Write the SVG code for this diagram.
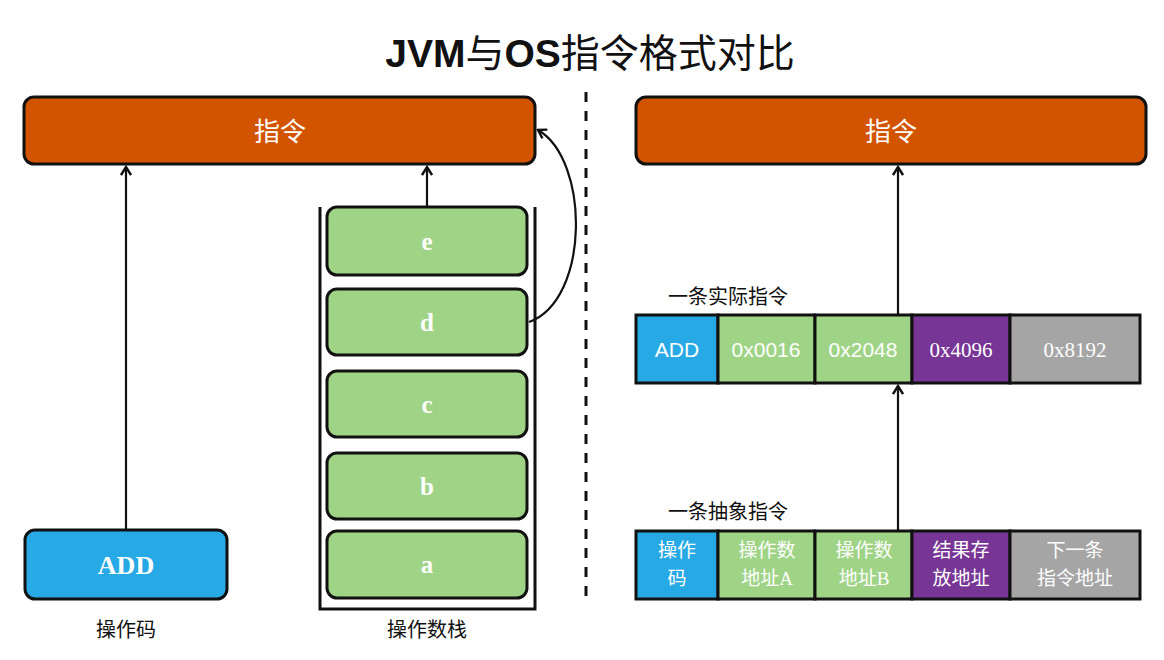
<svg xmlns="http://www.w3.org/2000/svg" width="1164" height="660" viewBox="0 0 1164 660">
<defs>
<marker id="arr" viewBox="0 0 12 12" refX="10" refY="6" markerWidth="12" markerHeight="12" markerUnits="userSpaceOnUse" orient="auto">
<path d="M2,1 L10,6 L2,11" fill="none" stroke="#111" stroke-width="2.4"/>
</marker>
<style>
.orange{fill:#d35400;stroke:#111;stroke-width:3}
.green{fill:#9fd487;stroke:#111;stroke-width:3}
.blue{fill:#27a9e6;stroke:#111;stroke-width:3}
.cell{stroke:#111;stroke-width:3}
.wcn{font-family:"Noto Sans CJK SC",sans-serif;fill:#fff;text-anchor:middle}
.wser{font-family:"Liberation Serif",serif;font-weight:bold;fill:#fff;text-anchor:middle}
.lbl{font-family:"Noto Sans CJK SC",sans-serif;fill:#111;font-size:20px}
.conn{fill:none;stroke:#111;stroke-width:2.2}
</style>
</defs>
<rect width="1164" height="660" fill="#fff"/>
<text x="590" y="67" text-anchor="middle" font-size="39" fill="#111"><tspan font-family="Liberation Sans,sans-serif" font-weight="bold">JVM</tspan><tspan font-family="Noto Sans CJK SC,sans-serif">与</tspan><tspan font-family="Liberation Sans,sans-serif" font-weight="bold">OS</tspan><tspan font-family="Noto Sans CJK SC,sans-serif">指令格式对比</tspan></text>
<line x1="586" y1="92" x2="586" y2="603" stroke="#111" stroke-width="3" stroke-dasharray="10,9"/>
<g id="left-instr"><rect class="orange" x="24" y="97" width="511" height="67" rx="10"/><text class="wcn" x="280" y="141" font-size="26">指令</text></g>
<g id="right-instr"><rect class="orange" x="636" y="97" width="510" height="67" rx="10"/><text class="wcn" x="891" y="141" font-size="26">指令</text></g>
<g id="opcode"><rect class="blue" x="25" y="530" width="202" height="69" rx="10"/><text class="wser" x="126" y="574" font-size="26">ADD</text></g>
<text class="lbl" x="126" y="637" text-anchor="middle">操作码</text>
<g id="stack">
<polyline points="320,207 320,609 535,609 535,207" fill="none" stroke="#111" stroke-width="3"/>
<g id="e"><rect class="green" x="327" y="207" width="200" height="68" rx="10"/><text class="wser" x="427" y="250" font-size="25">e</text></g>
<g id="d"><rect class="green" x="327" y="289" width="200" height="66" rx="10"/><text class="wser" x="427" y="331" font-size="25">d</text></g>
<g id="c"><rect class="green" x="327" y="371" width="200" height="66" rx="10"/><text class="wser" x="427" y="413" font-size="25">c</text></g>
<g id="b"><rect class="green" x="327" y="453" width="200" height="66" rx="10"/><text class="wser" x="427" y="495" font-size="25">b</text></g>
<g id="a"><rect class="green" x="327" y="531" width="200" height="67" rx="10"/><text class="wser" x="427" y="573" font-size="25">a</text></g>
</g>
<text class="lbl" x="427" y="637" text-anchor="middle">操作数栈</text>
<text class="lbl" x="668" y="304">一条实际指令</text>
<g id="real-row">
<rect class="cell" x="636" y="315" width="82" height="68" fill="#27a9e6"/>
<rect class="cell" x="718" y="315" width="97" height="68" fill="#9fd487"/>
<rect class="cell" x="815" y="315" width="97" height="68" fill="#9fd487"/>
<rect class="cell" x="912" y="315" width="98" height="68" fill="#773595"/>
<rect class="cell" x="1010" y="315" width="130" height="68" fill="#a5a5a5"/>
<g font-size="21" fill="#fff" text-anchor="middle">
<text x="677" y="357" font-family="Liberation Sans,sans-serif">ADD</text>
<text x="766" y="357" font-family="Liberation Sans,sans-serif">0x0016</text>
<text x="863" y="357" font-family="Liberation Sans,sans-serif">0x2048</text>
<text x="961" y="357" font-family="Liberation Serif,serif">0x4096</text>
<text x="1075" y="357" font-family="Liberation Serif,serif">0x8192</text>
</g>
</g>
<text class="lbl" x="668" y="519">一条抽象指令</text>
<g id="abstract-row">
<rect class="cell" x="636" y="531" width="82" height="68" fill="#27a9e6"/>
<rect class="cell" x="718" y="531" width="97" height="68" fill="#9fd487"/>
<rect class="cell" x="815" y="531" width="97" height="68" fill="#9fd487"/>
<rect class="cell" x="912" y="531" width="98" height="68" fill="#773595"/>
<rect class="cell" x="1010" y="531" width="130" height="68" fill="#a5a5a5"/>
<g class="wcn" font-size="19">
<text x="677" y="557">操作</text><text x="677" y="585">码</text>
<text x="767" y="557">操作数</text><text x="767" y="585">地址<tspan font-family="Liberation Serif,serif">A</tspan></text>
<text x="864" y="557">操作数</text><text x="864" y="585">地址<tspan font-family="Liberation Serif,serif">B</tspan></text>
<text x="961" y="557">结果存</text><text x="961" y="585">放地址</text>
<text x="1075" y="557">下一条</text><text x="1075" y="585">指令地址</text>
</g>
</g>
<g id="connectors">
<line class="conn" x1="126" y1="529" x2="126" y2="167" marker-end="url(#arr)"/>
<line class="conn" x1="427" y1="206" x2="427" y2="167" marker-end="url(#arr)"/>
<path class="conn" d="M529,322 C590,300 590,160 538,130" marker-end="url(#arr)"/>
<line class="conn" x1="898" y1="530" x2="898" y2="386" marker-end="url(#arr)"/>
<line class="conn" x1="898" y1="314" x2="898" y2="167" marker-end="url(#arr)"/>
</g>
</svg>
